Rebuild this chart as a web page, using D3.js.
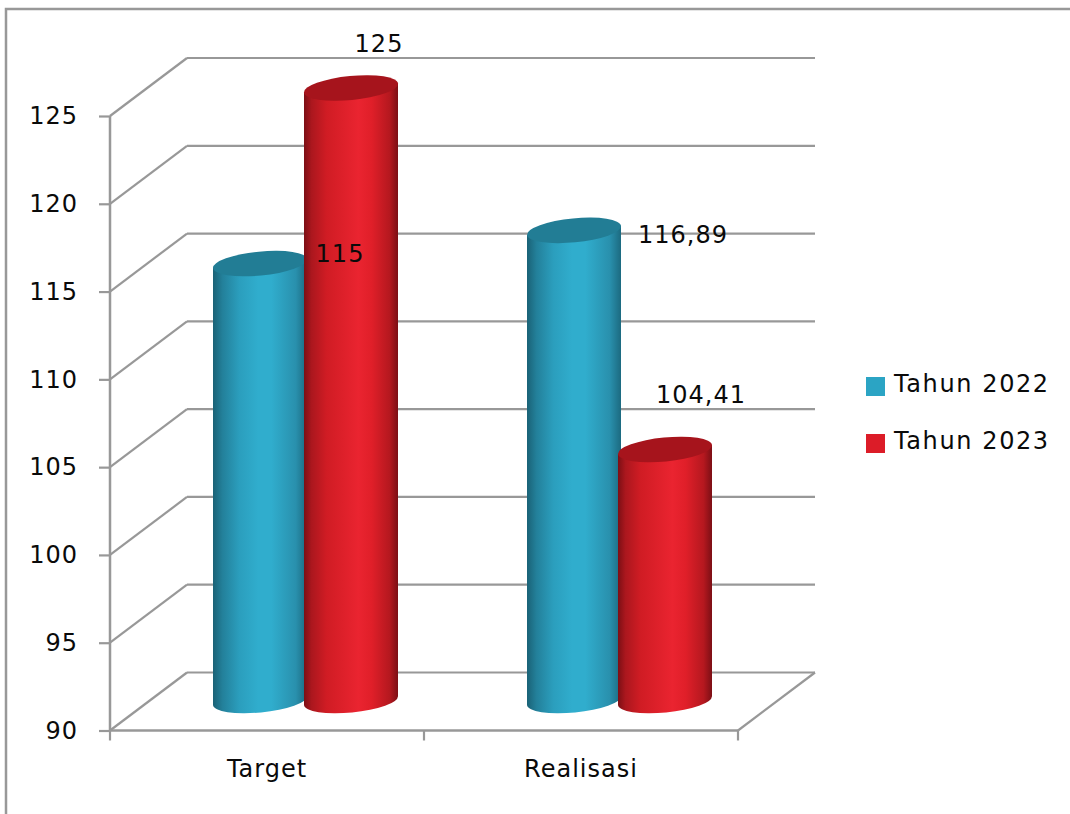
<!DOCTYPE html>
<html>
<head>
<meta charset="utf-8">
<script src="https://cdnjs.cloudflare.com/ajax/libs/d3/7.8.5/d3.min.js"></script>
<style>
  html, body { margin: 0; padding: 0; background: #fff; }
  svg { display: block; }
  text { font-family: "DejaVu Sans", sans-serif; font-size: 24px; letter-spacing: 1px; fill: #0a0a0a; }
  .axis path, .axis line, .grid line { stroke: #989898; stroke-width: 2.2; fill: none; }
  .axis .domain { stroke-width: 2.5; }
  .axis text { font-family: "DejaVu Sans", sans-serif; font-size: 24px; }
  .legend-label { letter-spacing: 1.6px; }
</style>
</head>
<body>
<div id="chart"></div>
<script>
// chart values
var categories = ["Target", "Realisasi"];
var seriesNames = ["Tahun 2022", "Tahun 2023"];
var values2022 = [115, 116.89];
var values2023 = [125, 104.41];
var valueLabels2022 = ["115", "116,89"];
var valueLabels2023 = ["125", "104,41"];
var yTicks = [90, 95, 100, 105, 110, 115, 120, 125];

var width = 1070, height = 814;

// the 3d box: how far the back wall sits from the front axis
var depthX = 77, depthY = 58;
var cylW = 94, cylRy = 12, tilt = -5.5;

var y = d3.scaleLinear().domain([90, 125]).range([730.5, 116]);
var x = d3.scaleBand().domain(categories).range([110, 738]);
var xSeries = d3.scaleBand().domain(seriesNames)
  .range([-91, 91]).paddingInner(0);

var svg = d3.select("#chart").append("svg")
  .attr("width", width)
  .attr("height", height);

// gradients for the cylinder sides
function addGradient(id, stops) {
  var g = svg.append("defs").append("linearGradient")
    .attr("id", id)
    .attr("x1", "0%").attr("x2", "100%")
    .attr("y1", "0%").attr("y2", "0%");
  stops.forEach(function(s) {
    g.append("stop").attr("offset", s[0]).attr("stop-color", s[1]);
  });
}
addGradient("side2022", [["0%", "#1a6276"], ["10%", "#23809a"], ["28%", "#2b9ebd"],
  ["48%", "#30adcd"], ["62%", "#30adcd"], ["88%", "#2990ad"], ["100%", "#1c6a80"]]);
addGradient("side2023", [["0%", "#7c0f15"], ["8%", "#ab171e"], ["24%", "#d01c24"],
  ["58%", "#ea2430"], ["72%", "#e01f29"], ["91%", "#b5181f"], ["100%", "#7c0f15"]]);

var seriesStyle = [
  { side: "url(#side2022)", top: "#227d95", swatch: "#2ba4c4" },
  { side: "url(#side2023)", top: "#a6141c", swatch: "#dc1c28" }
];

// outer chart frame, only top and left show
svg.append("path")
  .attr("d", d3.line()([[6, height], [6, 9], [width, 9]]))
  .attr("fill", "none")
  .attr("stroke", "#989898")
  .attr("stroke-width", 2.5);

// back wall and side wall lines
var grid = svg.append("g").attr("class", "grid");
yTicks.forEach(function(t) {
  grid.append("line")
    .attr("x1", 110).attr("y1", y(t))
    .attr("x2", 110 + depthX).attr("y2", y(t) - depthY);
  grid.append("line")
    .attr("x1", 110 + depthX).attr("y1", y(t) - depthY)
    .attr("x2", 738 + depthX).attr("y2", y(t) - depthY);
});
// right edge of the floor
grid.append("line")
  .attr("x1", 738).attr("y1", y(90))
  .attr("x2", 738 + depthX).attr("y2", y(90) - depthY);

// axes
var yAxis = d3.axisLeft(y).tickValues(yTicks).tickSize(11).tickPadding(21)
  .tickFormat(d3.format("d"));
svg.append("g").attr("class", "axis")
  .attr("transform", "translate(110,0)")
  .call(yAxis)
  .call(function(g) { g.select(".domain").attr("d", "M0," + y(125) + "V" + y(90)); });

var xAxis = d3.axisBottom(x).tickSize(0).tickPadding(29);
var xg = svg.append("g").attr("class", "axis cat-axis")
  .attr("transform", "translate(0," + y(90) + ")")
  .call(xAxis);
xg.select(".domain").attr("d", "M110,0H738");
[0, 1, 2].forEach(function(i) {
  var px = 110 + i * x.step();
  xg.append("line").attr("x1", px).attr("x2", px).attr("y1", 0).attr("y2", 10);
});

// cylinder outline helpers
var rad = tilt * Math.PI / 180;
function sidePath(cx, yTop, yBase) {
  var dx = cylW / 2, dy = dx * Math.tan(rad);
  var rx = dx / Math.cos(rad);
  return "M" + (cx - dx) + "," + (yTop - dy) +
    "L" + (cx - dx) + "," + (yBase - dy) +
    "A" + rx + "," + cylRy + " " + tilt + " 0 0 " + (cx + dx) + "," + (yBase + dy) +
    "L" + (cx + dx) + "," + (yTop + dy) + "Z";
}

var seriesValues = [values2022, values2023];
var seriesLabels = [valueLabels2022, valueLabels2023];

// label placement relative to the top of each cylinder
var labelShift = [[[80, -1], [109, 14]], [[28, -35], [36, -46]]];

var bars = svg.append("g");
seriesNames.forEach(function(name, s) {
  categories.forEach(function(cat, c) {
    var cx = x(cat) + x.bandwidth() / 2 + depthX / 2 + xSeries(name) + xSeries.bandwidth() / 2;
    var yBase = y(90) - depthY / 2 - 1;
    var yTop = y(seriesValues[s][c]) - depthY / 2 + 1;
    bars.append("path")
      .attr("d", sidePath(cx, yTop, yBase))
      .attr("fill", seriesStyle[s].side);
    bars.append("ellipse")
      .attr("rx", cylW / 2 / Math.cos(rad))
      .attr("ry", cylRy)
      .attr("transform", "translate(" + cx + "," + yTop + ") rotate(" + tilt + ")")
      .attr("fill", seriesStyle[s].top);
  });
});

// value labels go above everything
var labels = svg.append("g");
seriesNames.forEach(function(name, s) {
  categories.forEach(function(cat, c) {
    var cx = x(cat) + x.bandwidth() / 2 + depthX / 2 + xSeries(name) + xSeries.bandwidth() / 2;
    var yTop = y(seriesValues[s][c]) - depthY / 2;
    labels.append("text")
      .attr("x", cx + labelShift[s][c][0])
      .attr("y", yTop + labelShift[s][c][1])
      .attr("text-anchor", "middle")
      .text(seriesLabels[s][c]);
  });
});

// legend
var legend = svg.append("g");
seriesNames.forEach(function(name, i) {
  var ly = 377 + i * 57;
  legend.append("rect")
    .attr("x", 866).attr("y", ly)
    .attr("width", 19).attr("height", 19)
    .attr("fill", seriesStyle[i].swatch);
  legend.append("text")
    .attr("class", "legend-label")
    .attr("x", 894).attr("y", ly + 15)
    .text(name);
});
</script>
</body>
</html>
